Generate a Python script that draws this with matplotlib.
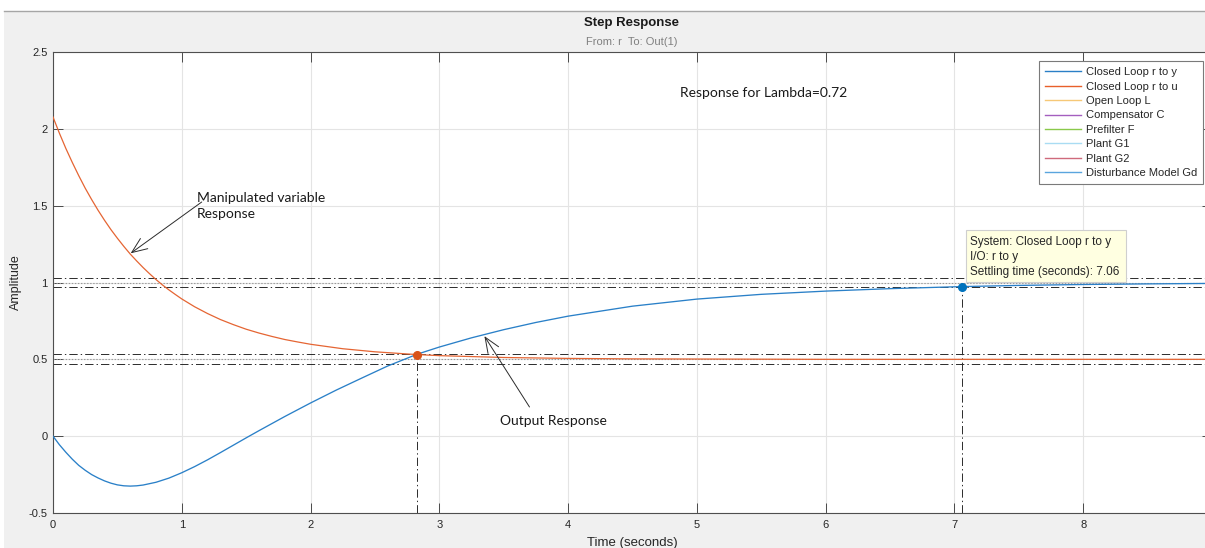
import matplotlib
matplotlib.use("Agg")
import matplotlib.pyplot as plt
from matplotlib.lines import Line2D
from matplotlib.patches import Rectangle

# ---- data -------------------------------------------------------------
# closed loop r -> y (output response)
t_y = [0.0, 0.05, 0.1, 0.15, 0.2, 0.25, 0.3, 0.35, 0.4, 0.45, 0.5, 0.55, 0.6,
       0.65, 0.7, 0.8, 0.9, 1.0, 1.1, 1.2, 1.3, 1.4, 1.5, 1.6, 1.8, 2.0, 2.2,
       2.4, 2.6, 2.83, 3.0, 3.25, 3.5, 3.75, 4.0, 4.5, 5.0, 5.5, 6.0, 6.5,
       7.0, 7.06, 7.5, 8.0, 8.5, 9.0]
y_out = [0.0, -0.056, -0.105, -0.150, -0.190, -0.222, -0.250, -0.272,
         -0.291, -0.306, -0.317, -0.323, -0.325, -0.323, -0.318, -0.300,
         -0.273, -0.238, -0.198, -0.154, -0.107, -0.059, -0.011, 0.036,
         0.128, 0.216, 0.300, 0.379, 0.457, 0.534, 0.580, 0.640, 0.693,
         0.740, 0.781, 0.846, 0.892, 0.923, 0.944, 0.960, 0.972, 0.9734,
         0.981, 0.987, 0.991, 0.994]

# closed loop r -> u (manipulated variable)
t_u = [0.0, 0.05, 0.1, 0.15, 0.2, 0.25, 0.3, 0.35, 0.4, 0.45, 0.5, 0.55, 0.6,
       0.65, 0.7, 0.75, 0.8, 0.85, 0.9, 0.95, 1.0, 1.1, 1.2, 1.3, 1.4, 1.5,
       1.6, 1.7, 1.8, 1.9, 2.0, 2.25, 2.5, 2.75, 2.83, 3.0, 3.5, 4.0, 4.5,
       5.0, 6.0, 7.0, 8.0, 9.0]
u_out = [2.077, 1.971, 1.872, 1.781, 1.695, 1.614, 1.540, 1.470, 1.405,
         1.344, 1.288, 1.235, 1.185, 1.140, 1.097, 1.057, 1.019, 0.984,
         0.952, 0.922, 0.893, 0.842, 0.798, 0.759, 0.726, 0.696, 0.671,
         0.649, 0.629, 0.613, 0.598, 0.569, 0.549, 0.535, 0.531, 0.524,
         0.512, 0.506, 0.503, 0.502, 0.500, 0.500, 0.500, 0.500]

# steady-state values, settling bands and settling points
y_final, y_band = 1.0, 0.0266
u_final, u_band = 0.5, 0.0315
settle_y_t, settle_y_v = 7.06, 0.9734
settle_u_t, settle_u_v = 2.83, 0.531

x_ticks = [0, 1, 2, 3, 4, 5, 6, 7, 8]
y_ticks = [-0.5, 0, 0.5, 1, 1.5, 2, 2.5]

legend_labels = ["Closed Loop r to y", "Closed Loop r to u", "Open Loop L",
                 "Compensator C", "Prefilter F", "Plant G1", "Plant G2",
                 "Disturbance Model Gd"]
legend_colors = ["#2a7fc6", "#e8602a", "#f6c877", "#a45fbf", "#8ac94a",
                 "#a9dcf3", "#cf6a7b", "#5aa5de"]

tip_lines = ["System: Closed Loop r to y", "I/O: r to y",
             "Settling time (seconds): 7.06"]

# ---- figure -----------------------------------------------------------
W, H, DPI = 1205, 548, 100
plt.rcParams["font.family"] = ["Liberation Sans", "DejaVu Sans"]
plt.rcParams["lines.scale_dashes"] = False

fig = plt.figure(figsize=(W / DPI, H / DPI), dpi=DPI, facecolor="white")


def fx(px):
    return px / W


def fy(py):
    return 1 - py / H


# grey window panel
fig.patches.append(Rectangle((fx(4), 0), 1 - fx(4), fy(11),
                             transform=fig.transFigure, facecolor="#f0f0f0",
                             edgecolor="none", zorder=-10))
fig.add_artist(Line2D([fx(4), 1], [fy(11), fy(11)], color="#a6a6a6", lw=1.0,
                      transform=fig.transFigure))

ax = fig.add_axes([fx(53), fy(513), (1212 - 53) / W, (513 - 52) / H])
ax.set_facecolor("white")
ax.set_xlim(0, 9)
ax.set_ylim(-0.5, 2.5)
ax.set_xticks(x_ticks)
ax.set_yticks(y_ticks)
ax.set_xticklabels([f"{v:g}" for v in x_ticks])
ax.set_yticklabels([f"{v:g}" for v in y_ticks])
ax.grid(True, color="#e4e4e4", lw=0.8)
ax.set_axisbelow(True)
ax.tick_params(direction="in", length=7, width=0.7, top=True, right=True,
               labelsize=8, color="#4a4a4a", labelcolor="#262626")
ax.tick_params(axis="x", pad=5)
ax.tick_params(axis="y", pad=4)
for s in ax.spines.values():
    s.set_color("#4f4f4f")
    s.set_linewidth(0.8)

ax.set_xlabel("Time (seconds)", fontsize=9.5, color="#262626", labelpad=5)
ax.set_ylabel("Amplitude", fontsize=9, color="#262626", labelpad=5)

fig.text(fx(632), fy(23), "Step Response", ha="center", va="center",
         fontsize=9.5, fontweight="bold", color="#1a1a1a")
fig.text(fx(632), fy(42), "From: r  To: Out(1)", ha="center", va="center",
         fontsize=8, color="#808080")

# settling bands and final values
dashdot = (0, (6, 2.2, 1, 2.2))
for c, b in ((y_final, y_band), (u_final, u_band)):
    ax.axhline(c + b, color="#2b2b2b", lw=0.7, ls=dashdot, zorder=2)
    ax.axhline(c - b, color="#2b2b2b", lw=0.7, ls=dashdot, zorder=2)
    ax.axhline(c, color="#9a9a9a", lw=0.8, ls=(0, (1, 1.2)), zorder=2)

ax.plot([settle_u_t, settle_u_t], [-0.5, settle_u_v], color="#2b2b2b",
        lw=0.7, ls=dashdot, zorder=2)
ax.plot([settle_y_t, settle_y_t], [-0.5, settle_y_v], color="#2b2b2b",
        lw=0.7, ls=dashdot, zorder=2)

# responses
ax.plot(t_y, y_out, color="#2a80c8", lw=0.95, zorder=3)
ax.plot(t_u, u_out, color="#e56533", lw=0.9, zorder=3)
ax.plot([settle_u_t], [settle_u_v], "o", color="#d95319", ms=5.5, zorder=4)
ax.plot([settle_y_t], [settle_y_v], "o", color="#0072bd", ms=5.5, zorder=4)

# legend
handles = [Line2D([], [], color=c, lw=1.0) for c in legend_colors]
leg = ax.legend(handles, legend_labels, loc="upper right",
                bbox_to_anchor=(fx(1203), fy(61)),
                bbox_transform=fig.transFigure, fontsize=8,
                handlelength=3.2, handletextpad=0.45, labelspacing=0.4,
                borderpad=0.55, borderaxespad=0, fancybox=False,
                framealpha=1, edgecolor="#7a7a7a")
leg.get_frame().set_linewidth(0.8)
for txt in leg.get_texts():
    txt.set_color("#262626")

# data tip
ax.add_patch(Rectangle((fx(966), fy(282)), fx(1126) - fx(966),
                       fy(230) - fy(282), transform=fig.transFigure,
                       facecolor="#ffffe1", edgecolor="#cfcfcf", lw=0.8,
                       zorder=20, clip_on=False))
for i, line in enumerate(tip_lines):
    fig.text(fx(970), fy(242 + 15 * i), line, ha="left", va="center",
             fontsize=8.5, color="#262626", zorder=21)

# annotations
note_font = dict(family=["Lato", "DejaVu Sans"], fontsize=10, color="#1a1a1a")
ax.text(4.87, 2.232, "Response for Lambda=0.72", ha="left", va="center",
        **note_font)
ax.text(1.118, 1.496, "Manipulated variable\nResponse", ha="left",
        va="center", linespacing=1.4, **note_font)
ax.text(3.472, 0.098, "Output Response", ha="left", va="center", **note_font)

arrow = dict(arrowstyle="->,head_length=1.1,head_width=0.45",
             color="#2b2b2b", lw=0.7, shrinkA=0, shrinkB=0)
ax.annotate("", xy=(0.603, 1.19), xytext=(1.155, 1.524), arrowprops=arrow)
ax.annotate("", xy=(3.35, 0.651), xytext=(3.70, 0.19), arrowprops=arrow)

fig.savefig("out.png", dpi=DPI, facecolor=fig.get_facecolor())
